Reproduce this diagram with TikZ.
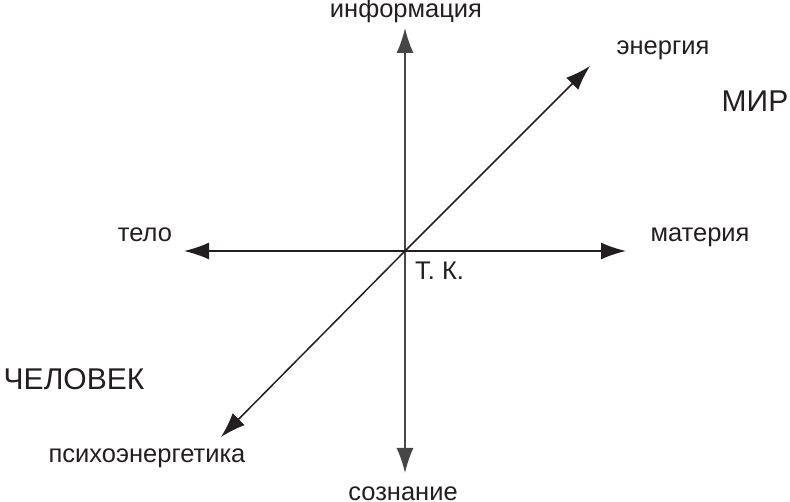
\documentclass[tikz,border=0pt]{standalone}
\usepackage{fontspec}
\setmainfont{Liberation Sans}
\usetikzlibrary{arrows.meta}
\tikzstyle{pixelPlane} = [x = 1pt, y = -1pt]
\definecolor{inkColor}{RGB}{35,31,32}
\definecolor{axisGray}{RGB}{70,70,70}
\tikzstyle{axisArrow} = [color=inkColor, line width=1.5pt, -{Latex[length=25pt, width=17pt]}]
\tikzstyle{axisLabel} = [text=inkColor, font=\fontsize{25.5}{28}\selectfont, anchor=base, inner sep=0pt]
\tikzstyle{bigLabel} = [text=inkColor, font=\fontsize{30}{34}\selectfont, anchor=base, inner sep=0pt]
\newcommand{\axisTip}[3]{\coordinate (#1) at (#2, #3);}

\begin{document}
\begin{tikzpicture}[pixelPlane]
  \useasboundingbox (0,0) rectangle (790,502);
  % axes
  \coordinate (tk) at (405,251);
  \axisTip{infoTip}{405}{28}
  \axisTip{soznTip}{405}{473}
  \axisTip{teloTip}{184}{251}
  \axisTip{matTip}{626}{251}
  \axisTip{energTip}{590}{66}
  \axisTip{psiTip}{221}{437}
  \draw [axisArrow, color=axisGray] (tk) -- (infoTip);
  \draw [axisArrow, color=axisGray] (tk) -- (soznTip);
  \draw [axisArrow] (tk) -- (teloTip);
  \draw [axisArrow] (tk) -- (matTip);
  \draw [axisArrow] (tk) -- (energTip);
  \draw [axisArrow] (tk) -- (psiTip);
  % labels
  \node [axisLabel] (info) at (406,18) {информация};
  \node [axisLabel] (energ) at (663,55) {энергия};
  \node [axisLabel] (mat) at (700,242) {материя};
  \node [axisLabel] (telo) at (145,242) {тело};
  \node [axisLabel, anchor=base west] (tkLabel) at (415,280) {Т. К.};
  \node [axisLabel] (psi) at (147,463) {психоэнергетика};
  \node [axisLabel] (sozn) at (403,500) {сознание};
  \node [bigLabel] (mir) at (755,112) {МИР};
  \node [bigLabel] (chel) at (74,390) {ЧЕЛОВЕК};
\end{tikzpicture}
\end{document}
